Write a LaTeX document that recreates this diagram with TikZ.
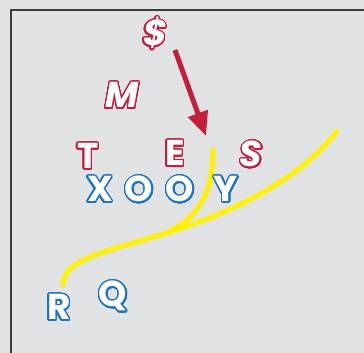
\documentclass[tikz,border=0pt]{standalone}
\usepackage{fontspec}
\setmainfont{Poppins}
\usepackage{contour}
\contournumber{32}
\contourlength{1.4pt}
\usetikzlibrary{arrows.meta}
\definecolor{bg}{HTML}{E1E2E4}
\definecolor{frameline}{HTML}{3C3C3C}
\definecolor{letterred}{HTML}{C41E3A}
\definecolor{letterblue}{HTML}{1C75BC}
\definecolor{pathyellow}{HTML}{FFF200}
% outlined letters: white fill with a coloured rim
\newcommand\redltr[1]{\contour{letterred}{#1}}
\newcommand\blueltr[1]{\contour{letterblue}{#1}}
\tikzset{
  ltr/.style={inner sep=0pt, text=white, font=\fontsize{36}{36}\selectfont\bfseries},
  ltrit/.style={ltr, font=\fontsize{36}{36}\selectfont\bfseries\itshape},
  frame/.style={draw=frameline, line width=1.5pt},
  trail/.style={draw=pathyellow, line width=5pt, line cap=round},
  pointer/.style={draw=letterred, line width=5pt, -{Triangle[length=24pt,width=20pt]}}
}
\begin{document}
\begin{tikzpicture}[x=1pt,y=-1pt]
  \fill[bg] (0,0) rectangle (364,353);
  \useasboundingbox (0,0) rectangle (364,353);
  % frame edges along the left and top
  \draw[frame] (11,353) -- (11,10) -- (364,10);

  % yellow trails
  \coordinate (trailR) at (63,285);
  \coordinate (trailMid) at (150,238);
  \coordinate (trailEnd) at (337,131);
  \coordinate (branchTop) at (213,150);
  \coordinate (branchJoin) at (163,234);
  \draw[trail] (trailR) .. controls (63,262) and (95,254) .. (trailMid)
                        .. controls (230,215) and (300,180) .. (trailEnd);
  \draw[trail] (branchTop) .. controls (213,195) and (197,220) .. (branchJoin);

  % red letters
  \node[ltrit] (dollar) at (155,34) {\redltr{\$}};
  \node[ltrit] (m) at (122,96) {\redltr{M}};
  \node[ltr] (t) at (88,157) {\redltr{T}};
  \node[ltr] (e) at (175,154) {\redltr{E}};
  \node[ltrit] (s) at (251,155) {\redltr{S}};

  % blue letters
  \node[ltr] (x) at (100,190) {\blueltr{X}};
  \node[ltr] (o1) at (139,190) {\blueltr{O}};
  \node[ltr] (o2) at (180,190) {\blueltr{O}};
  \node[ltr] (y) at (226,190) {\blueltr{Y}};
  \node[ltr] (r) at (59,308) {\blueltr{R}};
  \node[ltr] (q) at (113,297) {\blueltr{Q}};

  % red arrow
  \coordinate (arrowstart) at (175,50);
  \coordinate (arrowtip) at (206,136);
  \draw[pointer] (arrowstart) -- (arrowtip);
\end{tikzpicture}
\end{document}
